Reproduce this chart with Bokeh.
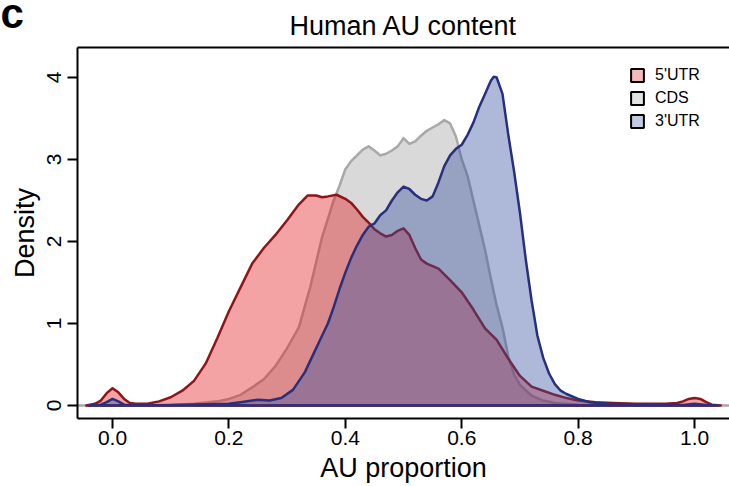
from bokeh.plotting import figure
from bokeh.models import (Range1d, LinearAxis, FixedTicker, Legend, Title,
                          LegendItem, NumeralTickFormatter, ColumnDataSource)
from bokeh.embed import file_html
from bokeh.resources import INLINE

# ---- density curves of AU proportion per transcript region ----
utr5_x = [-0.045, -0.03, -0.02, -0.01, 0.0, 0.01, 0.02, 0.03, 0.04, 0.06, 0.08, 0.10,
          0.12, 0.14, 0.16, 0.18, 0.20, 0.22, 0.24, 0.26, 0.28, 0.30, 0.32, 0.335,
          0.35, 0.36, 0.37, 0.385, 0.40, 0.41, 0.42, 0.43, 0.44, 0.45, 0.46, 0.47,
          0.48, 0.49, 0.50, 0.51, 0.52, 0.53, 0.54, 0.56, 0.58, 0.60, 0.62, 0.64,
          0.66, 0.68, 0.70, 0.72, 0.74, 0.76, 0.78, 0.80, 0.83, 0.86, 0.90, 0.95,
          0.97, 0.98, 0.99, 1.0, 1.01, 1.02, 1.03, 1.045]
utr5_y = [0.0, 0.02, 0.06, 0.15, 0.21, 0.16, 0.08, 0.03, 0.02, 0.02, 0.05, 0.10,
          0.18, 0.30, 0.51, 0.82, 1.15, 1.44, 1.73, 1.92, 2.08, 2.26, 2.45, 2.56,
          2.56, 2.54, 2.55, 2.57, 2.52, 2.47, 2.39, 2.30, 2.23, 2.15, 2.10, 2.06,
          2.08, 2.13, 2.16, 2.08, 1.92, 1.78, 1.73, 1.67, 1.53, 1.38, 1.17, 0.94,
          0.80, 0.57, 0.36, 0.23, 0.18, 0.13, 0.09, 0.06, 0.04, 0.03, 0.02, 0.02,
          0.03, 0.05, 0.08, 0.09, 0.08, 0.04, 0.01, 0.0]

cds_x = [-0.06, 0.0, 0.10, 0.14, 0.18, 0.20, 0.22, 0.24, 0.26, 0.28, 0.30, 0.32,
         0.34, 0.36, 0.38, 0.39, 0.40, 0.41, 0.42, 0.43, 0.44, 0.45, 0.46, 0.47,
         0.48, 0.49, 0.50, 0.51, 0.52, 0.53, 0.54, 0.55, 0.56, 0.57, 0.58, 0.59,
         0.60, 0.61, 0.62, 0.63, 0.64, 0.65, 0.66, 0.67, 0.68, 0.69, 0.70, 0.72,
         0.74, 0.76, 0.80, 0.90, 1.10]
cds_y = [0.0, 0.0, 0.005, 0.02, 0.05, 0.08, 0.13, 0.22, 0.32, 0.48, 0.70, 0.95,
         1.45, 2.05, 2.50, 2.68, 2.88, 2.98, 3.05, 3.12, 3.16, 3.11, 3.05, 3.07,
         3.11, 3.16, 3.26, 3.19, 3.22, 3.29, 3.35, 3.39, 3.43, 3.48, 3.44, 3.28,
         3.00, 2.80, 2.50, 2.20, 1.90, 1.55, 1.22, 0.95, 0.60, 0.38, 0.25, 0.12,
         0.06, 0.03, 0.01, 0.0, 0.0]

utr3_x = [-0.04, -0.02, -0.01, 0.0, 0.01, 0.02, 0.04, 0.10, 0.20, 0.22, 0.24, 0.25,
          0.27, 0.29, 0.31, 0.33, 0.34, 0.36, 0.37, 0.38, 0.39, 0.40, 0.41, 0.42,
          0.43, 0.44, 0.45, 0.46, 0.47, 0.48, 0.49, 0.50, 0.51, 0.52, 0.53, 0.54,
          0.55, 0.56, 0.57, 0.58, 0.59, 0.60, 0.61, 0.62, 0.63, 0.64, 0.65, 0.655,
          0.66, 0.67, 0.68, 0.69, 0.70, 0.71, 0.72, 0.73, 0.74, 0.75, 0.76, 0.77,
          0.78, 0.80, 0.82, 0.85, 0.90, 0.98, 1.0, 1.02, 1.04]
utr3_y = [0.0, 0.01, 0.04, 0.08, 0.05, 0.01, 0.0, 0.005, 0.02, 0.04, 0.06, 0.07,
          0.06, 0.09, 0.19, 0.40, 0.55, 0.85, 1.00, 1.20, 1.42, 1.62, 1.80, 1.95,
          2.08, 2.18, 2.22, 2.32, 2.38, 2.50, 2.60, 2.67, 2.64, 2.57, 2.52, 2.50,
          2.55, 2.72, 2.92, 3.05, 3.13, 3.18, 3.30, 3.45, 3.64, 3.80, 3.96, 4.01,
          4.00, 3.80, 3.30, 2.85, 2.35, 1.78, 1.28, 0.85, 0.58, 0.39, 0.26, 0.18,
          0.14, 0.08, 0.04, 0.02, 0.01, 0.005, 0.02, 0.005, 0.0]

series_names = ["5'UTR", "CDS", "3'UTR"]
x_ticks = [0.0, 0.2, 0.4, 0.6, 0.8, 1.0]
y_ticks = [0, 1, 2, 3, 4]

FONT = "Liberation Sans"
fill_cols = {"5'UTR": "#E31A1C", "CDS": "#A0A0A0", "3'UTR": "#3450A2"}
line_cols = {"5'UTR": "#8E1518", "CDS": "#A8A8A8", "3'UTR": "#28307E"}

p = figure(width=729, height=486, title=None,
           x_range=Range1d(-0.0601, 1.060), y_range=Range1d(-0.159, 4.366),
           output_backend="svg", toolbar_location=None,
           min_border_left=77, min_border_right=0, min_border_top=47,
           min_border_bottom=68)
p.outline_line_color = None
p.grid.visible = False
p.background_fill_color = "white"
p.border_fill_color = "white"

# polygons: CDS underneath, then 5'UTR, then 3'UTR on top
curves = {"5'UTR": (utr5_x, utr5_y), "CDS": (cds_x, cds_y), "3'UTR": (utr3_x, utr3_y)}
for name in ["CDS", "5'UTR", "3'UTR"]:
    xs, ys = curves[name]
    src = ColumnDataSource(dict(x=xs, y=ys))
    p.patch("x", "y", source=src, fill_color=fill_cols[name], fill_alpha=0.4,
            line_color=line_cols[name], line_width=2.5, line_join="round")

# axes
for ax in (p.xaxis[0], p.yaxis[0]):
    ax.axis_line_width = 2
    ax.major_tick_line_width = 2
    ax.major_tick_out = 10
    ax.major_tick_in = 0
    ax.minor_tick_line_color = None
    ax.major_label_text_font = FONT
    ax.major_label_text_font_size = "21px"
    ax.major_label_text_color = "black"
    ax.axis_label_text_font = FONT
    ax.axis_label_text_font_size = "27px"
    ax.axis_label_text_font_style = "normal"
    ax.axis_label_text_color = "black"

p.xaxis[0].ticker = FixedTicker(ticks=x_ticks)
p.xaxis[0].formatter = NumeralTickFormatter(format="0.0")
p.xaxis[0].major_label_standoff = 2
p.xaxis[0].axis_label = "AU proportion"
p.xaxis[0].axis_label_standoff = 5

p.yaxis[0].ticker = FixedTicker(ticks=y_ticks)
p.yaxis[0].major_label_orientation = "parallel"
p.yaxis[0].major_label_standoff = 6
p.yaxis[0].axis_label = "Density"
p.yaxis[0].axis_label_standoff = 5

# top edge of the frame, carrying the chart title
top = LinearAxis(ticker=FixedTicker(ticks=[]), axis_line_width=2,
                 major_tick_line_color=None, minor_tick_line_color=None,
                 major_tick_out=0, major_label_standoff=0,
                 major_label_text_font_size="0px",
                 axis_label="Human AU content", axis_label_standoff=7,
                 axis_label_text_font=FONT, axis_label_text_font_size="27px",
                 axis_label_text_font_style="normal", axis_label_text_color="black")
p.add_layout(top, "above")

# panel letter in the top-left corner
p.add_layout(Title(text="c", align="left", offset=-77, vertical_align="bottom",
                   standoff=-59, text_font=FONT, text_font_size="42px",
                   text_font_style="bold", text_color="black"), "above")

# legend with boxed swatches (swatch renderers hold no visible geometry)
nan = float("nan")
items = []
for name in series_names:
    src = ColumnDataSource(dict(l=[nan], r=[nan], t=[nan], b=[nan]))
    r = p.quad(left="l", right="r", top="t", bottom="b", source=src,
               fill_color=fill_cols[name], fill_alpha=0.3,
               line_color="black", line_width=2)
    items.append(LegendItem(label=name, renderers=[r]))
leg = Legend(items=items, location=(552, 288), padding=0, margin=0,
             glyph_width=16, glyph_height=16, label_height=16, spacing=5,
             label_standoff=10, label_text_font=FONT, label_text_font_size="16px",
             label_text_color="black", label_text_baseline="middle",
             border_line_color=None, background_fill_alpha=0)
p.add_layout(leg)

open("out.html", "w").write(file_html(p, INLINE))
